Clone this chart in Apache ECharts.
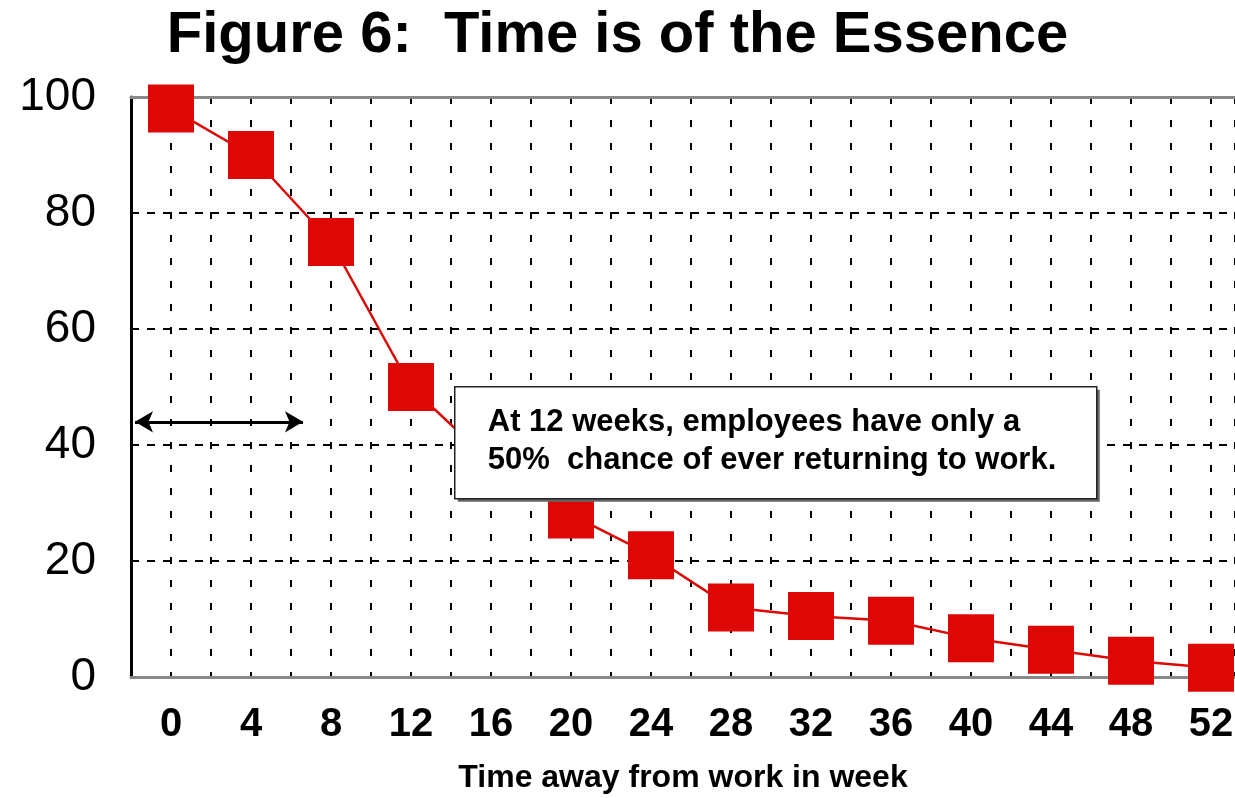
<!DOCTYPE html>
<html>
<head>
<meta charset="utf-8">
<script src="https://cdn.jsdelivr.net/npm/echarts@6/dist/echarts.min.js"></script>
<style>
    html, body { margin: 0; padding: 0; background: #fff; }
    #chart { width: 1235px; height: 798px; }
</style>
</head>
<body>
<div id="chart"></div>
<script>
// weeks away from work and the chance (%) of ever returning
var weeks = [0, 4, 8, 12, 16, 20, 24, 28, 32, 36, 40, 44, 48, 52];
var returnPct = [98, 90, 75, 50, 37, 28, 21, 12, 10.5, 9.7, 6.7, 4.7, 2.8, 1.6];
var weekTicks = [0, 4, 8, 12, 16, 20, 24, 28, 32, 36, 40, 44, 48, 52];
var pctTicks = [0, 20, 40, 60, 80, 100];
// double arrow under the first weeks
var arrowSpan = [-1.8, 6.6];
var arrowLevel = 44;
var noteLines = ['At 12 weeks, employees have only a', '50%  chance of ever returning to work.'];

(function() {
    var font = 'Liberation Sans';
    var red = '#DD0806';
    var xMin = -2, xMax = 53.2;

    var points = weeks.map(function(w, i) {
        return [w, returnPct[i]];
    });

    var option = {
        animation: false,
        title: {
            text: 'Figure 6:  Time is of the Essence',
            left: 'center',
            top: 2,
            textStyle: {
                fontFamily: font,
                fontWeight: 'bold',
                fontSize: 58,
                color: '#000'
            }
        },
        grid: {
            left: 131,
            top: 97,
            right: 0,
            height: 580,
            containLabel: false,
            outerBoundsMode: 'none'
        },
        xAxis: [{
            type: 'value',
            min: xMin,
            max: xMax,
            interval: 2,
            name: 'Time away from work in week',
            nameLocation: 'middle',
            nameGap: 85,
            nameTextStyle: {
                fontFamily: font,
                fontWeight: 'bold',
                fontSize: 32,
                color: '#000'
            },
            axisLine: {
                onZero: false,
                lineStyle: { color: '#888', width: 3 }
            },
            axisTick: { show: false },
            axisLabel: {
                margin: 28,
                fontFamily: font,
                fontWeight: 'bold',
                fontSize: 40,
                color: '#000',
                showMaxLabel: false,
                formatter: function(v) {
                    return weekTicks.indexOf(v) >= 0 ? String(v) : '';
                }
            },
            splitLine: {
                show: true,
                lineStyle: { color: '#000', width: 2, type: [7, 16] }
            }
        }, {
            // top border of the plot area
            type: 'value',
            position: 'top',
            min: xMin,
            max: xMax,
            axisLine: {
                onZero: false,
                lineStyle: { color: '#888', width: 3 }
            },
            axisTick: { show: false },
            axisLabel: { show: false },
            splitLine: { show: false }
        }],
        yAxis: {
            type: 'value',
            min: pctTicks[0],
            max: pctTicks[pctTicks.length - 1],
            interval: 20,
            axisLine: {
                show: true,
                onZero: false,
                lineStyle: { color: '#000', width: 3 }
            },
            axisTick: { show: false },
            axisLabel: {
                margin: 35,
                fontFamily: font,
                fontSize: 46,
                color: '#000'
            },
            splitLine: {
                show: true,
                lineStyle: {
                    color: ['rgba(0,0,0,0)', '#000', '#000', '#000', '#000', 'rgba(0,0,0,0)'],
                    width: 2,
                    type: [8, 8]
                }
            }
        },
        series: [{
            type: 'line',
            data: points,
            symbol: 'rect',
            symbolSize: [46, 48],
            itemStyle: { color: red },
            lineStyle: { color: red, width: 2.5 },
            z: 3,
            markLine: {
                silent: true,
                symbol: ['arrow', 'arrow'],
                symbolSize: [16, 18],
                label: { show: false },
                lineStyle: { color: '#000', width: 3, type: 'solid' },
                data: [[
                    { coord: [arrowSpan[0], arrowLevel] },
                    { coord: [arrowSpan[1], arrowLevel] }
                ]]
            }
        }],
        graphic: [{
            type: 'group',
            left: 454,
            top: 386,
            z: 100,
            children: [{
                type: 'rect',
                z: 100,
                shape: { x: 3, y: 3, width: 642, height: 112 },
                style: { fill: '#666' }
            }, {
                type: 'rect',
                z: 101,
                shape: { x: 0, y: 0, width: 642, height: 112 },
                style: { fill: '#fff', stroke: '#222', lineWidth: 1.5 }
            }, {
                type: 'text',
                z: 102,
                x: 33,
                y: 17,
                style: {
                    text: noteLines.join('\n'),
                    fontFamily: font,
                    fontWeight: 'bold',
                    fontSize: 31,
                    lineHeight: 38,
                    fill: '#000',
                    verticalAlign: 'top'
                }
            }]
        }]
    };

    var myChart = echarts.init(document.getElementById('chart'));
    myChart.setOption(option);
})();
</script>
</body>
</html>
